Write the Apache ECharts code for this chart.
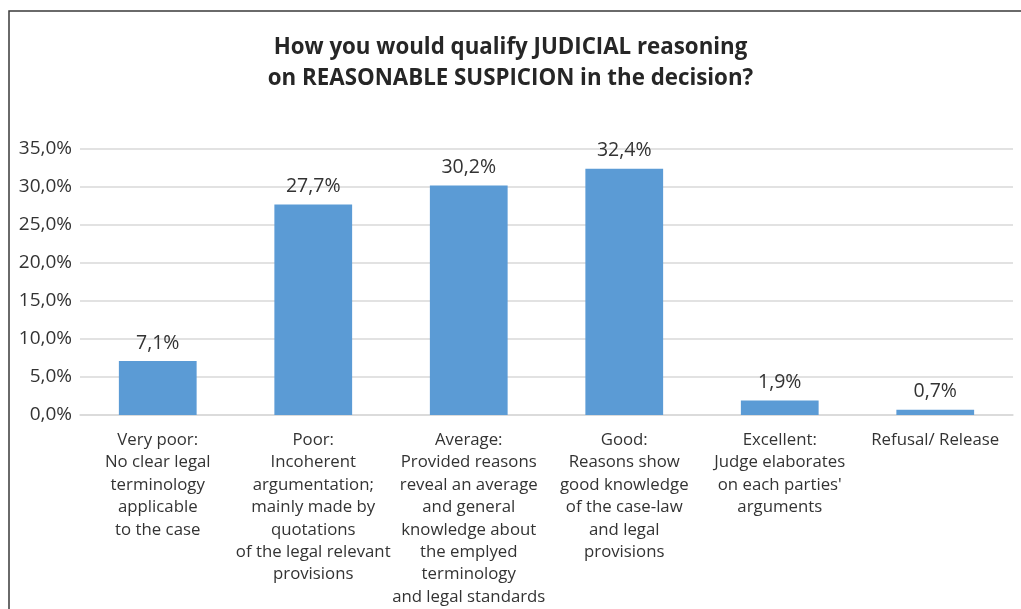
<!DOCTYPE html>
<html><head><meta charset="utf-8">
<script src="https://cdn.jsdelivr.net/npm/echarts@6/dist/echarts.min.js"></script>
<style>html,body{margin:0;padding:0;background:#fff}#c{width:1021px;height:609px}</style>
</head><body><div id="c"></div>
<script>
const categories = [
  "Very poor:\nNo clear legal\nterminology\napplicable\nto the case",
  "Poor:\nIncoherent\nargumentation;\nmainly made by\nquotations\nof the legal relevant\nprovisions",
  "Average:\nProvided reasons\nreveal an average\nand general\nknowledge about\nthe emplyed\nterminology\nand legal standards",
  "Good:\nReasons show\ngood knowledge\nof the case-law\nand legal\nprovisions",
  "Excellent:\nJudge elaborates\non each parties'\narguments",
  "Refusal/ Release"
];
const values = [7.1, 27.7, 30.2, 32.4, 1.9, 0.7];
const yTicks = [0, 5, 10, 15, 20, 25, 30, 35];
const titleText = "How you would qualify JUDICIAL reasoning\non REASONABLE SUSPICION in the decision?";

const fmt = v => v.toFixed(1).replace('.', ',') + '%';
const FONT = '"Open Sans", "Noto Sans", sans-serif';
const chart = echarts.init(document.getElementById('c'), null, {renderer: 'canvas'});
chart.setOption({
  animation: false,
  textStyle: {fontFamily: FONT},
  title: {
    text: titleText,
    left: 'center', top: 27,
    textStyle: {fontFamily: FONT, fontWeight: 'bold', fontSize: 22.3, color: '#262626', lineHeight: 31}
  },
  graphic: [{
    type: 'rect', shape: {x: 9, y: 11, width: 1040, height: 640},
    style: {fill: 'none', stroke: '#3a3a3a', lineWidth: 1.5}, silent: true
  }],
  grid: {left: 80, right: 8, top: 149, bottom: 194},
  xAxis: {
    type: 'category', data: categories,
    axisTick: {show: false},
    axisLine: {show: true, lineStyle: {color: '#d9d9d9', width: 1.5}},
    axisLabel: {interval: 0, margin: 14, fontSize: 16.8, lineHeight: 22.4, color: '#333', fontFamily: FONT, verticalAlign: 'top'}
  },
  yAxis: {
    type: 'value', min: yTicks[0], max: yTicks[yTicks.length - 1], interval: 5,
    axisLine: {show: false}, axisTick: {show: false},
    splitLine: {lineStyle: {color: '#d9d9d9', width: 1.5}},
    axisLabel: {fontSize: 19, color: '#333', margin: 8, fontFamily: FONT, formatter: v => fmt(v)}
  },
  series: [{
    type: 'bar', data: values, barWidth: '50%',
    itemStyle: {color: '#5b9bd5'},
    label: {show: true, position: 'top', distance: 8, fontSize: 19.5, color: '#333', fontFamily: FONT, formatter: p => fmt(p.value)}
  }]
});
</script></body></html>
